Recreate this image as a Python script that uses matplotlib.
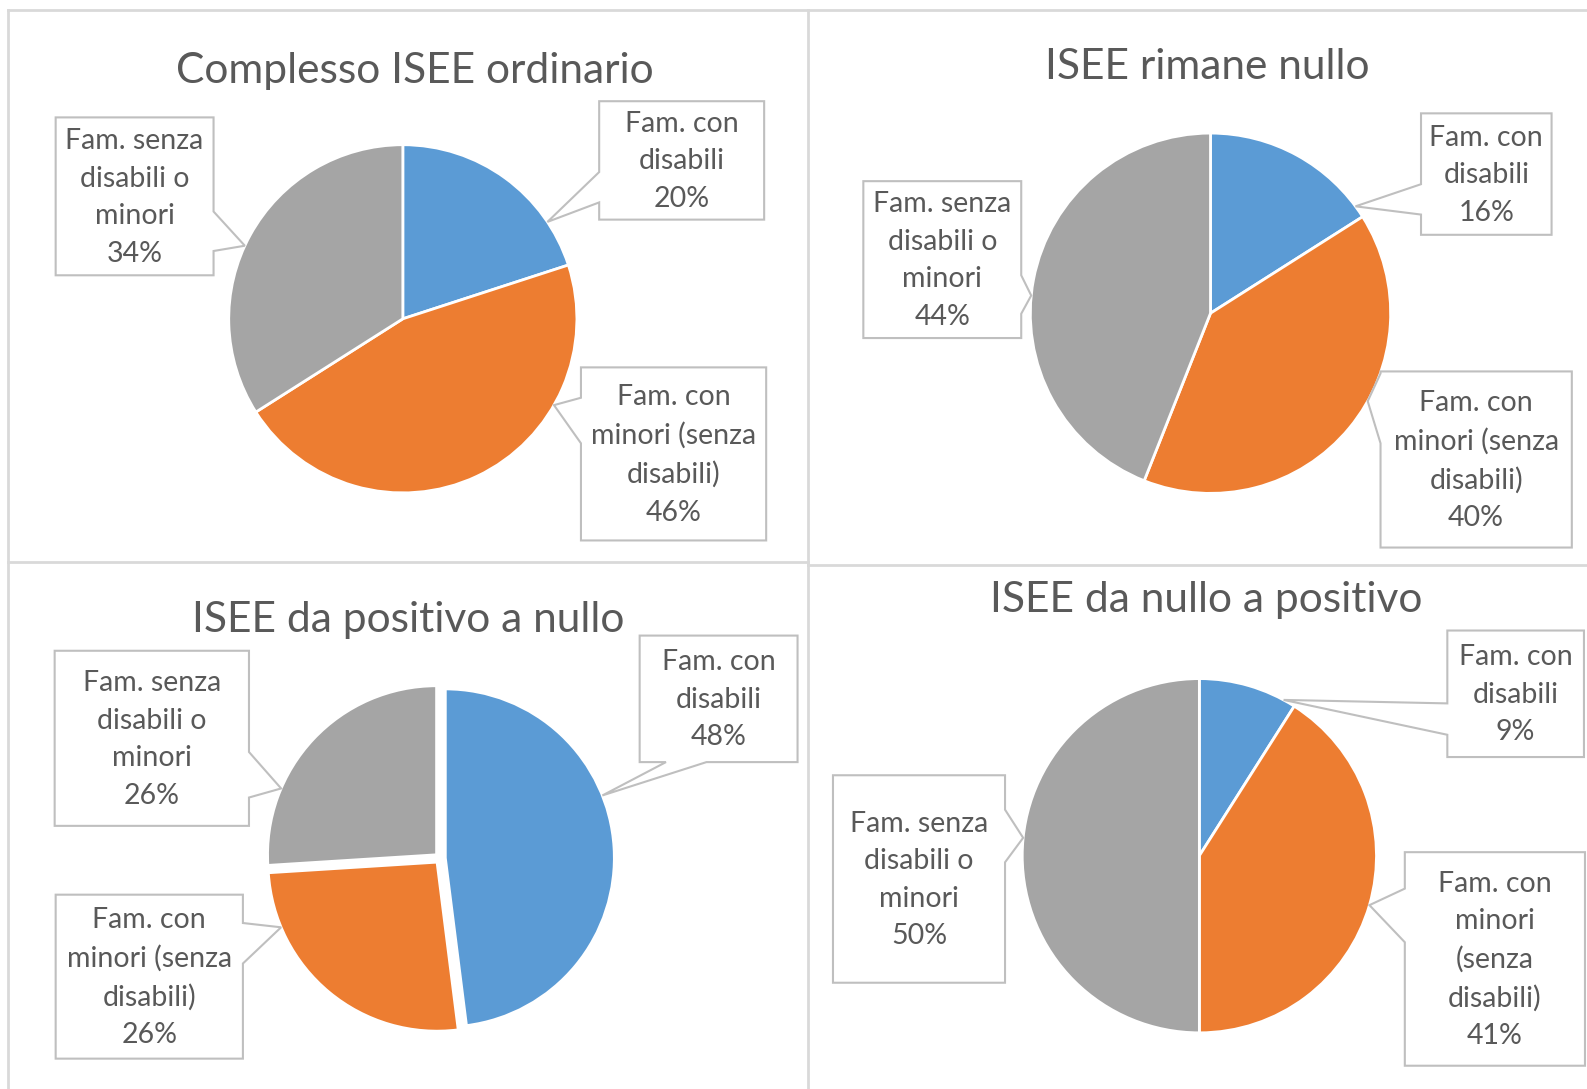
import textwrap
import numpy as np
import matplotlib
matplotlib.use("Agg")
import matplotlib.pyplot as plt
from matplotlib.patches import Polygon

# data (percent shares)
titles = ["Complesso ISEE ordinario", "ISEE rimane nullo",
          "ISEE da positivo a nullo", "ISEE da nullo a positivo"]
categories = ["Fam. con disabili", "Fam. con minori (senza disabili)",
              "Fam. senza disabili o minori"]
complesso = [20, 46, 34]
rimane_nullo = [16, 40, 44]
positivo_a_nullo = [48, 26, 26]
nullo_a_positivo = [9, 41, 50]
series = [complesso, rimane_nullo, positivo_a_nullo, nullo_a_positivo]

colors = ["#5B9BD5", "#ED7D31", "#A5A5A5"]
TXT = "#595959"
BOX = "#BFBFBF"
GRID = "#D9D9D9"
FONT = "Lato"

# drawing frame in pixels of the reference (y goes down)
W, H = 1568, 1076

# per panel: title position, pie centre, radius, explode offset (px)
panels = [
    dict(title=(410, 70), center=(398, 315), r=172, explode=0),
    dict(title=(1193, 66), center=(1196, 309.5), r=178, explode=0),
    dict(title=(403, 613), center=(435, 848), r=167, explode=5),
    dict(title=(1192, 593), center=(1185, 845.5), r=175, explode=0),
]

# callouts per panel, in category order: box, pointer side, pointer base, wrap width
callouts = [
    [((592, 100, 755, 217), "left", (170, 200), 10),
     ((574, 363, 757, 534), "left", (393, 438), 13),
     ((55, 116, 211, 272), "right", (209, 248), 10)],
    [((1404, 112, 1533, 232), "left", (182, 212), 10),
     ((1364, 367, 1553, 541), "left", (369, 438), 13),
     ((853, 179, 1009, 334), "right", (272, 310), 10)],
    [((632, 628, 788, 753), "bottom", (658, 698), 10),
     ((55, 884, 240, 1046), "right", (912, 952), 13),
     ((54, 643, 246, 816), "right", (743, 788), 10)],
    [((1430, 623, 1565, 748), "left", (695, 726), 10),
     ((1388, 842, 1566, 1053), "left", (878, 931), 9),
     ((823, 766, 993, 971), "right", (800, 852), 10)],
]


def tip_point(w, target, margin=4):
    # point on the wedge rim facing the callout base
    cx, cy = w.center
    ang = np.degrees(np.arctan2(target[1] - cy, target[0] - cx))
    span = w.theta2 - w.theta1
    d = (ang - w.theta1) % 360
    if d > span:
        d = span if (d - span) < (360 - d) else 0
    d = min(max(d, margin), span - margin)
    a = np.radians(w.theta1 + d)
    return cx + w.r * np.cos(a), cy + w.r * np.sin(a)


def callout_poly(box, side, base, tip):
    x0, y0, x1, y1 = box
    b0, b1 = base
    if side == "top":
        pts = [(x0, y0), (b0, y0), tip, (b1, y0), (x1, y0), (x1, y1), (x0, y1)]
    elif side == "right":
        pts = [(x0, y0), (x1, y0), (x1, b0), tip, (x1, b1), (x1, y1), (x0, y1)]
    elif side == "bottom":
        pts = [(x0, y0), (x1, y0), (x1, y1), (b1, y1), tip, (b0, y1), (x0, y1)]
    else:
        pts = [(x0, y0), (x1, y0), (x1, y1), (x0, y1), (x0, b1), tip, (x0, b0)]
    return pts


fig = plt.figure(figsize=(15.87, 10.89), dpi=100)
ax = fig.add_axes([0, 0, 1, 1])

# panel borders
ax.plot([8, W], [10, 10], color=GRID, lw=2)
ax.plot([8, 8], [10, H], color=GRID, lw=2)
ax.plot([798, 798], [10, H], color=GRID, lw=2)
ax.plot([8, 798], [555, 555], color=GRID, lw=2)
ax.plot([798, W], [558, 558], color=GRID, lw=2)

for p, vals, title, boxes in zip(panels, series, titles, callouts):
    # y axis is inverted: start at -90 and run counterclockwise in data = clockwise on screen
    wedges, _ = ax.pie(vals, colors=colors, startangle=-90, counterclock=True,
                       center=p["center"], radius=p["r"], frame=True,
                       explode=[p["explode"]] * len(vals),
                       wedgeprops=dict(edgecolor="white", linewidth=2))
    ax.text(*p["title"], title, ha="center", va="center", color=TXT,
            fontsize=30.6, family=FONT)
    for w, cat, v, (box, side, base, wrap) in zip(wedges, categories, vals, boxes):
        x0, y0, x1, y1 = box
        if side in ("top", "bottom"):
            bmid = ((base[0] + base[1]) / 2, y0 if side == "top" else y1)
        else:
            bmid = (x0 if side == "left" else x1, (base[0] + base[1]) / 2)
        tip = tip_point(w, bmid)
        ax.add_patch(Polygon(callout_poly(box, side, base, tip), closed=True,
                             facecolor="white", edgecolor=BOX, lw=1.5, zorder=5))
        label = textwrap.fill(cat, wrap) + f"\n{v}%"
        ax.text((x0 + x1) / 2, (y0 + y1) / 2 + 1, label, ha="center", va="center",
                multialignment="center", color=TXT, fontsize=20.5, family=FONT,
                linespacing=1.55, zorder=6)

ax.set_xlim(0, W)
ax.set_ylim(H, 0)
ax.set_aspect("auto")
ax.set_axis_off()

fig.savefig("out.png", dpi=100, facecolor="white")
